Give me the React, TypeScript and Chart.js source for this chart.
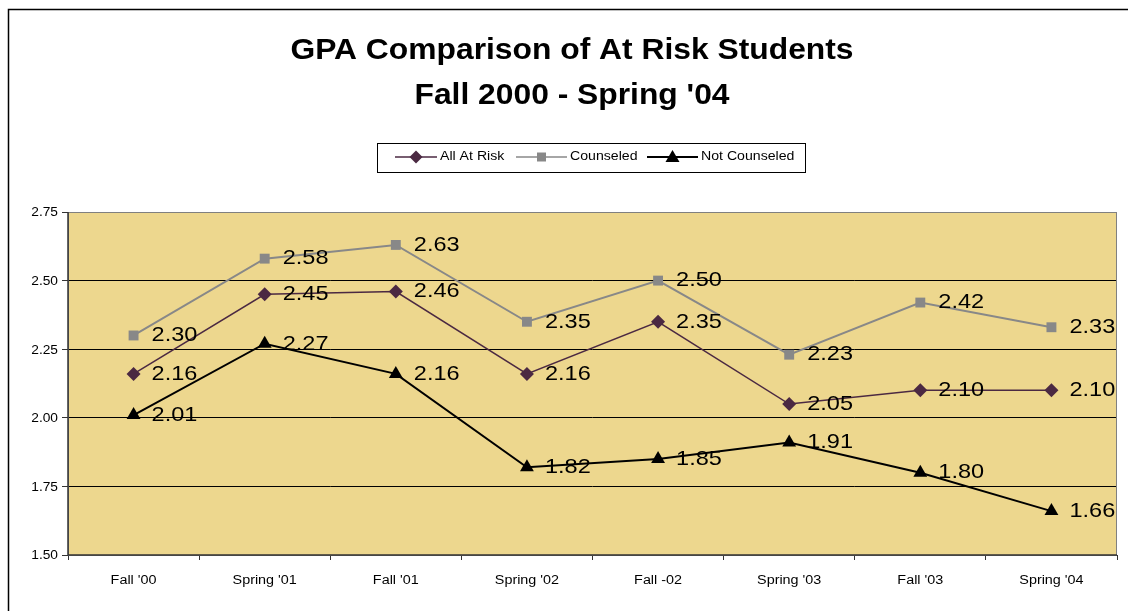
import React, { useEffect, useRef } from "react";
import { Chart, registerables } from "chart.js";

Chart.register(...registerables);

const categories = ["Fall '00", "Spring '01", "Fall '01", "Spring '02", "Fall -02", "Spring '03", "Fall '03", "Spring '04"];
const allAtRisk = [2.16, 2.45, 2.46, 2.16, 2.35, 2.05, 2.1, 2.1];
const counseled = [2.3, 2.58, 2.63, 2.35, 2.5, 2.23, 2.42, 2.33];
const notCounseled = [2.01, 2.27, 2.16, 1.82, 1.85, 1.91, 1.8, 1.66];
const titleLines = ["GPA Comparison of At Risk Students", "Fall 2000 - Spring '04"];
const seriesNames = ["All At Risk", "Counseled", "Not Counseled"];

const FONT = "Arial, 'Liberation Sans', Helvetica, sans-serif";
const PURPLE = "#4B2942";
const GRAY = "#888888";
const BLACK = "#000000";
const PLOT_BG = "#EDD78E";

function stretchText(
  ctx: CanvasRenderingContext2D,
  text: string,
  x: number,
  y: number,
  align: "left" | "center" | "right",
  sx: number
) {
  ctx.save();
  ctx.translate(x, y);
  ctx.scale(sx, 1);
  ctx.textAlign = align;
  ctx.textBaseline = "middle";
  ctx.fillText(text, 0, 0);
  ctx.restore();
}

function drawMarker(ctx: CanvasRenderingContext2D, style: string, x: number, y: number, color: string) {
  ctx.save();
  ctx.fillStyle = color;
  ctx.beginPath();
  if (style === "rectRot") {
    const r = 6.5;
    ctx.moveTo(x, y - r);
    ctx.lineTo(x + r, y);
    ctx.lineTo(x, y + r);
    ctx.lineTo(x - r, y);
    ctx.closePath();
  } else if (style === "rect") {
    ctx.rect(x - 4.5, y - 4.5, 9, 9);
  } else {
    ctx.moveTo(x, y - 7);
    ctx.lineTo(x + 7, y + 5);
    ctx.lineTo(x - 7, y + 5);
    ctx.closePath();
  }
  ctx.fill();
  ctx.restore();
}

const decorPlugin = {
  id: "decor",
  beforeDraw(chart: any) {
    const { ctx, chartArea } = chart;
    ctx.save();
    ctx.fillStyle = "#ffffff";
    ctx.fillRect(0, 0, chart.width, chart.height);
    ctx.strokeStyle = "#000000";
    ctx.lineWidth = 1.5;
    ctx.strokeRect(8.5, 9.5, chart.width + 20, chart.height + 20);
    ctx.fillStyle = PLOT_BG;
    ctx.fillRect(chartArea.left, chartArea.top, chartArea.right - chartArea.left, chartArea.bottom - chartArea.top);
    // title
    ctx.fillStyle = "#000";
    ctx.font = `bold 30px ${FONT}`;
    stretchText(ctx, titleLines[0], 572, 51, "center", 1.06);
    stretchText(ctx, titleLines[1], 572, 96, "center", 1.06);
    // legend
    ctx.strokeStyle = "#000";
    ctx.lineWidth = 1;
    ctx.strokeRect(377.5, 143.5, 428, 29);
    const items = [
      { name: seriesNames[0], color: PURPLE, style: "rectRot", x0: 395, x1: 437, tx: 440 },
      { name: seriesNames[1], color: GRAY, style: "rect", x0: 516, x1: 567, tx: 570 },
      { name: seriesNames[2], color: BLACK, style: "triangle", x0: 647, x1: 698, tx: 701 },
    ];
    ctx.font = `12.5px ${FONT}`;
    const ly = 157;
    for (const it of items) {
      ctx.strokeStyle = it.color;
      ctx.lineWidth = it.color === BLACK ? 2 : 1.5;
      ctx.beginPath();
      ctx.moveTo(it.x0, ly);
      ctx.lineTo(it.x1, ly);
      ctx.stroke();
      drawMarker(ctx, it.style, (it.x0 + it.x1) / 2, ly, it.color);
      ctx.fillStyle = "#000";
      stretchText(ctx, it.name, it.tx, ly, "left", 1.13);
    }
    ctx.restore();
  },
  afterDatasetsDraw(chart: any) {
    const { ctx, chartArea } = chart;
    ctx.save();
    ctx.strokeStyle = "#808080";
    ctx.lineWidth = 1;
    ctx.strokeRect(chartArea.left + 0.5, chartArea.top + 0.5, chartArea.right - chartArea.left - 1, chartArea.bottom - chartArea.top);
    ctx.strokeStyle = "#333";
    ctx.lineWidth = 1.5;
    ctx.beginPath();
    ctx.moveTo(chartArea.left, chartArea.top);
    ctx.lineTo(chartArea.left, chartArea.bottom);
    ctx.lineTo(chartArea.right, chartArea.bottom);
    ctx.stroke();
    // tick labels drawn from the library's scales
    ctx.fillStyle = "#000";
    ctx.font = `12.5px ${FONT}`;
    const ys = chart.scales.y;
    ys.ticks.forEach((t: any) => {
      stretchText(ctx, Number(t.value).toFixed(2), chartArea.left - 10, ys.getPixelForValue(t.value) + 1, "right", 1.1);
    });
    const xs = chart.scales.x;
    xs.ticks.forEach((t: any, i: number) => {
      stretchText(ctx, categories[t.value] ?? String(t.label), xs.getPixelForTick(i), chartArea.bottom + 26, "center", 1.15);
    });
    // data labels
    ctx.font = `21px ${FONT}`;
    chart.data.datasets.forEach((ds: any, i: number) => {
      const meta = chart.getDatasetMeta(i);
      meta.data.forEach((pt: any, j: number) => {
        stretchText(ctx, Number(ds.data[j]).toFixed(2), pt.x + 18, pt.y, "left", 1.12);
      });
    });
    ctx.restore();
  },
};

export default function App() {
  const ref = useRef<HTMLCanvasElement | null>(null);
  useEffect(() => {
    if (!ref.current) return;
    const chart = new Chart(ref.current, {
      type: "line",
      data: {
        labels: categories,
        datasets: [
          {
            label: seriesNames[1],
            data: counseled,
            borderColor: GRAY,
            backgroundColor: GRAY,
            borderWidth: 2,
            pointStyle: "rect",
            pointRadius: 7,
            pointBorderWidth: 0,
            tension: 0,
          },
          {
            label: seriesNames[0],
            data: allAtRisk,
            borderColor: PURPLE,
            backgroundColor: PURPLE,
            borderWidth: 1.5,
            pointStyle: "rectRot",
            pointRadius: 7,
            pointBorderWidth: 0,
            tension: 0,
          },
          {
            label: seriesNames[2],
            data: notCounseled,
            borderColor: BLACK,
            backgroundColor: BLACK,
            borderWidth: 2,
            pointStyle: "triangle",
            pointRadius: 8,
            pointBorderWidth: 0,
            tension: 0,
          },
        ],
      },
      options: {
        animation: false,
        responsive: false,
        devicePixelRatio: 1,
        layout: { padding: { top: 212, right: 11, left: 8, bottom: 0 } },
        plugins: {
          legend: { display: false },
          title: { display: false },
          tooltip: { enabled: false },
        },
        scales: {
          x: {
            offset: true,
            grid: {
              offset: true,
              drawOnChartArea: false,
              drawTicks: true,
              tickLength: 5,
              color: "#333",
            },
            border: { display: false },
            ticks: {
              color: "rgba(0,0,0,0)",
              font: { family: FONT, size: 12 },
              padding: 12,
              maxRotation: 0,
              autoSkip: false,
            },
            afterFit: (s: any) => {
              s.height = 56;
            },
          },
          y: {
            min: 1.5,
            max: 2.75,
            ticks: {
              stepSize: 0.25,
              color: "rgba(0,0,0,0)",
              font: { family: FONT, size: 12 },
              padding: 4,
              callback: (v: any) => Number(v).toFixed(2),
            },
            grid: {
              color: "#000",
              lineWidth: 1,
              tickLength: 6,
              drawTicks: true,
              tickColor: "#333",
            },
            border: { display: false },
            afterFit: (s: any) => {
              s.width = 60;
            },
          },
        },
      },
      plugins: [decorPlugin],
    });
    return () => chart.destroy();
  }, []);
  return (
    <div style={{ position: "absolute", left: 0, top: 0, width: 1128, height: 611 }}>
      <canvas ref={ref} width={1128} height={611} style={{ width: 1128, height: 611, display: "block" }} />
    </div>
  );
}
